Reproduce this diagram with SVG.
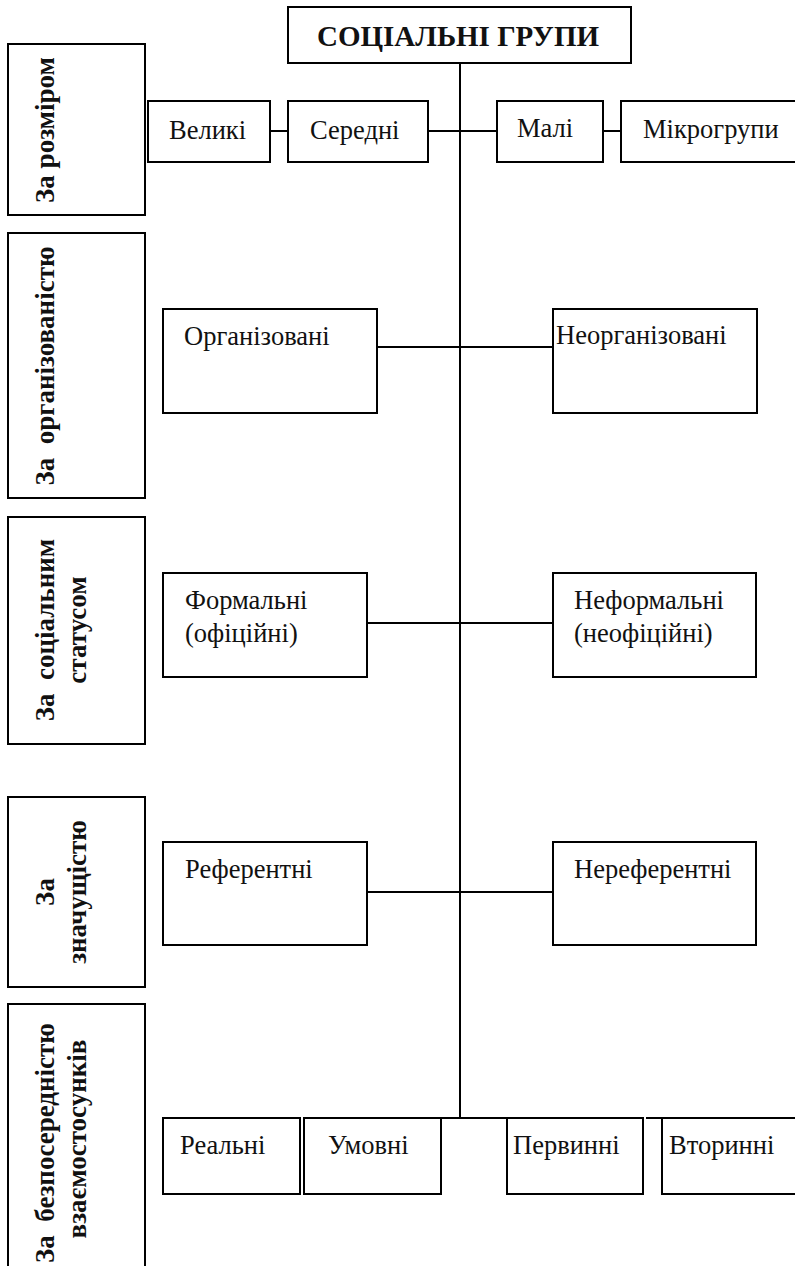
<svg xmlns="http://www.w3.org/2000/svg" width="795" height="1266" viewBox="0 0 795 1266">
<style>
  .box { fill: #fff; stroke: #000; stroke-width: 2; }
  .ln { stroke: #000; stroke-width: 2; fill: none; }
  text { font-family: 'Liberation Serif', 'Times New Roman', serif; fill: #111; }
  .t { font-size: 26.5px; }
  .lbl { font-size: 27px; font-weight: bold; text-anchor: middle; white-space: pre; }
  .title { font-size: 29px; font-weight: bold; }
</style>
<rect width="795" height="1266" fill="#fff"/>

<g id="connectors">
  <line class="ln" x1="460" y1="63" x2="460" y2="1119"/>
  <line class="ln" x1="270" y1="131" x2="288" y2="131"/>
  <line class="ln" x1="428" y1="131" x2="497" y2="131"/>
  <line class="ln" x1="603" y1="131" x2="621" y2="131"/>
  <line class="ln" x1="377" y1="347" x2="553" y2="347"/>
  <line class="ln" x1="367" y1="623" x2="553" y2="623"/>
  <line class="ln" x1="367" y1="892" x2="553" y2="892"/>
  <line class="ln" x1="441" y1="1118" x2="507" y2="1118"/>
  <line class="ln" x1="646" y1="1118" x2="662" y2="1118"/>
</g>

<g id="title">
  <rect class="box" x="288" y="7" width="343" height="56"/>
  <text class="title" x="317" y="46">СОЦІАЛЬНІ ГРУПИ</text>
</g>

<g id="crit-size">
  <rect class="box" x="8" y="44" width="137" height="171"/>
  <text class="lbl" transform="translate(54,130) rotate(-90)">За розміром</text>
</g>
<g id="crit-org">
  <rect class="box" x="8" y="233" width="137" height="265"/>
  <text class="lbl" transform="translate(54,366) rotate(-90)">За  організованістю</text>
</g>
<g id="crit-status">
  <rect class="box" x="8" y="517" width="137" height="227"/>
  <text class="lbl" transform="translate(54,630) rotate(-90)">За  соціальним</text>
  <text class="lbl" transform="translate(86,630) rotate(-90)">статусом</text>
</g>
<g id="crit-signif">
  <rect class="box" x="8" y="797" width="137" height="190"/>
  <text class="lbl" transform="translate(54,892) rotate(-90)">За</text>
  <text class="lbl" transform="translate(86,892) rotate(-90)">значущістю</text>
</g>
<g id="crit-direct">
  <rect class="box" x="8" y="1004" width="137" height="280"/>
  <text class="lbl" transform="translate(54,1143) rotate(-90)">За  безпосередністю</text>
  <text class="lbl" transform="translate(86,1139) rotate(-90)">взаємостосунків</text>
</g>

<g id="n-velyki">
  <rect class="box" x="148" y="101" width="122" height="61"/>
  <text class="t" x="169" y="139">Великі</text>
</g>
<g id="n-seredni">
  <rect class="box" x="288" y="101" width="140" height="61"/>
  <text class="t" x="310" y="139">Середні</text>
</g>
<g id="n-mali">
  <rect class="box" x="497" y="101" width="106" height="61"/>
  <text class="t" x="517" y="137">Малі</text>
</g>
<g id="n-mikro">
  <rect class="box" x="621" y="101" width="190" height="61"/>
  <text class="t" x="643" y="138">Мікрогрупи</text>
</g>

<g id="n-org">
  <rect class="box" x="163" y="309" width="214" height="104"/>
  <text class="t" x="184" y="345">Організовані</text>
</g>
<g id="n-neorg">
  <rect class="box" x="553" y="309" width="204" height="104"/>
  <text class="t" x="556" y="344">Неорганізовані</text>
</g>

<g id="n-formal">
  <rect class="box" x="163" y="573" width="204" height="104"/>
  <text class="t" x="185" y="609">Формальні</text>
  <text class="t" x="185" y="642">(офіційні)</text>
</g>
<g id="n-neformal">
  <rect class="box" x="553" y="573" width="203" height="104"/>
  <text class="t" x="574" y="609">Неформальні</text>
  <text class="t" x="574" y="642">(неофіційні)</text>
</g>

<g id="n-ref">
  <rect class="box" x="163" y="842" width="204" height="103"/>
  <text class="t" x="185" y="878">Референтні</text>
</g>
<g id="n-neref">
  <rect class="box" x="553" y="842" width="203" height="103"/>
  <text class="t" x="574" y="878">Нереферентні</text>
</g>

<g id="n-realni">
  <rect class="box" x="163" y="1118" width="137" height="76"/>
  <text class="t" x="180" y="1154">Реальні</text>
</g>
<g id="n-umovni">
  <rect class="box" x="304" y="1118" width="137" height="76"/>
  <text class="t" x="328" y="1154">Умовні</text>
</g>
<g id="n-pervynni">
  <rect class="box" x="507" y="1118" width="136" height="76"/>
  <text class="t" x="513" y="1154">Первинні</text>
</g>
<g id="n-vtorynni">
  <rect class="box" x="662" y="1118" width="150" height="76"/>
  <text class="t" x="669" y="1154">Вторинні</text>
</g>
</svg>
